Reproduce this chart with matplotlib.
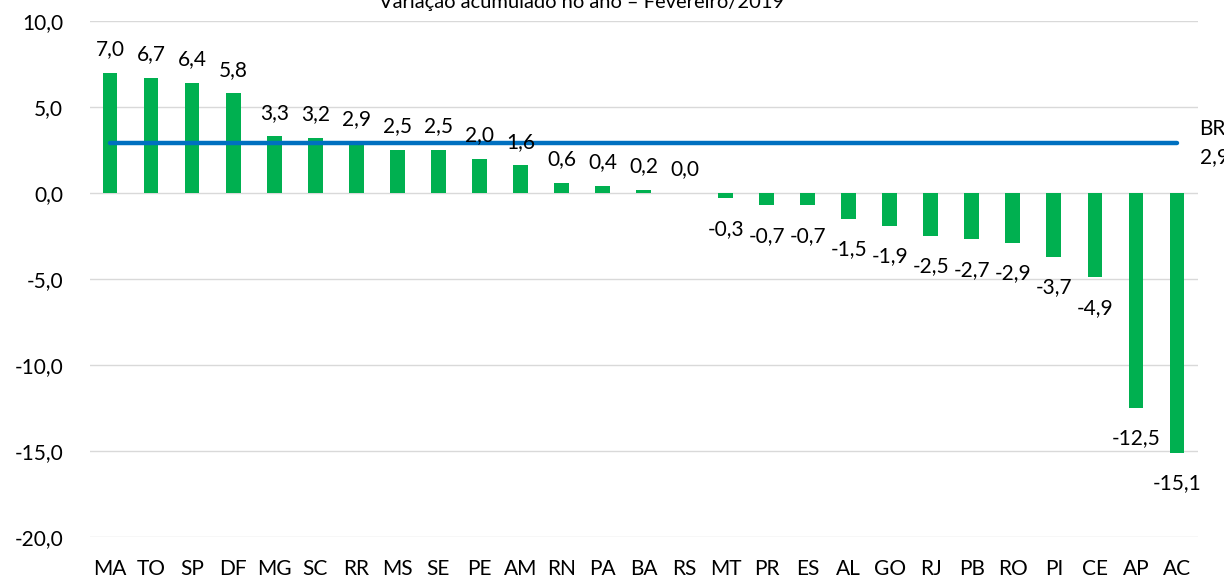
import matplotlib as mpl
import matplotlib.pyplot as plt

mpl.rcParams["font.family"] = ["Lato", "DejaVu Sans"]

# dados: variação acumulada no ano por UF
ufs = ["MA", "TO", "SP", "DF", "MG", "SC", "RR", "MS", "SE", "PE", "AM", "RN", "PA",
       "BA", "RS", "MT", "PR", "ES", "AL", "GO", "RJ", "PB", "RO", "PI", "CE", "AP", "AC"]
valores = [7.0, 6.7, 6.4, 5.8, 3.3, 3.2, 2.9, 2.5, 2.5, 2.0, 1.6, 0.6, 0.4,
           0.2, 0.0, -0.3, -0.7, -0.7, -1.5, -1.9, -2.5, -2.7, -2.9, -3.7, -4.9, -12.5, -15.1]
br_valor = 2.9
yticks = [-20, -15, -10, -5, 0, 5, 10]

fig = plt.figure(figsize=(12.24, 5.8), dpi=100)
ax = fig.add_axes([89.5 / 1224, 1 - 537 / 580, (1197.5 - 89.5) / 1224, 516 / 580])

x = list(range(len(ufs)))
ax.bar(x, valores, width=0.36, color="#00B050", zorder=2)
ax.plot([x[0], x[-1]], [br_valor, br_valor], color="#0070C0", linewidth=3.2,
        solid_capstyle="round", zorder=3)

for xi, v in zip(x, valores):
    txt = f"{v:.1f}".replace(".", ",")
    off = 17 if v >= 0 else -22
    ax.annotate(txt, xy=(xi, v), xytext=(0, off), textcoords="offset points",
                ha="center", va="center", fontsize=15, zorder=4)

ax.text(x[-1] + 0.55, br_valor, "BR\n2,9", ha="left", va="center",
        fontsize=15, linespacing=1.5, clip_on=False)

ax.set_xlim(-0.5, len(ufs) - 0.5)
ax.set_ylim(-20, 10)
ax.set_yticks(yticks)
ax.set_yticklabels([f"{t:.1f}".replace(".", ",") for t in yticks], fontsize=15)
ax.set_xticks(x)
ax.set_xticklabels(ufs, fontsize=15)
ax.tick_params(axis="both", length=0)
ax.tick_params(axis="x", pad=16)
ax.tick_params(axis="y", pad=19)
ax.grid(axis="y", color="#D9D9D9", linewidth=1, zorder=0)
for s in ax.spines.values():
    s.set_visible(False)

fig.text(582 / 1224, 1 - 8 / 580, "Variação acumulado no ano – Fevereiro/2019",
         ha="center", va="baseline", fontsize=14.5)

fig.savefig("out.png", dpi=100)
